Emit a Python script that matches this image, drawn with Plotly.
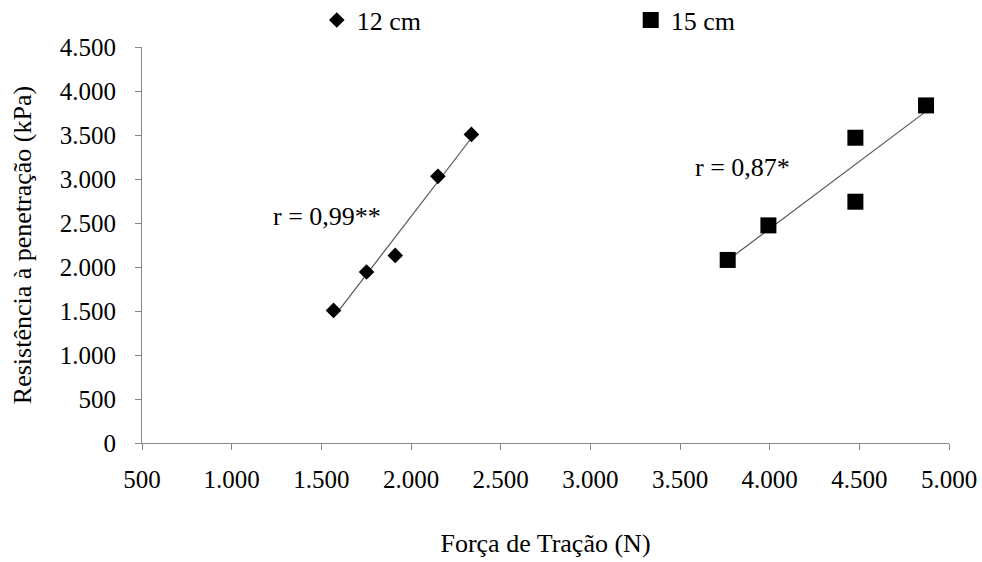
import numpy as np
import plotly.graph_objects as go

# Data
x_12 = [1568, 1752, 1912, 2150, 2337]
y_12 = [1507, 1943, 2132, 3030, 3507]
x_15 = [3766, 3993, 4478, 4478, 4872]
y_15 = [2080, 2473, 3469, 2742, 3836]

series_names = ["12 cm", "15 cm"]
r_labels = ["r = 0,99**", "r = 0,87*"]
r_label_pos = [(1533, 2572), (3846, 3128)]

x_ticks = [500, 1000, 1500, 2000, 2500, 3000, 3500, 4000, 4500, 5000]
y_ticks = [0, 500, 1000, 1500, 2000, 2500, 3000, 3500, 4000, 4500]


def fmt(v):
    return f"{v:,}".replace(",", ".")


FONT = "Liberation Serif"
AXIS_COLOR = "#868686"

fig = go.Figure()


def trend(xs, ys):
    m, b = np.polyfit(xs, ys, 1)
    xr = [min(xs), max(xs)]
    return xr, [m * v + b for v in xr]


for xs, ys in [(x_12, y_12), (x_15, y_15)]:
    tx, ty = trend(xs, ys)
    fig.add_trace(go.Scatter(x=tx, y=ty, mode="lines",
                             line=dict(color="#555555", width=1.2),
                             showlegend=False, hoverinfo="skip"))

fig.add_trace(go.Scatter(x=x_12, y=y_12, mode="markers", name=series_names[0],
                         marker=dict(symbol="diamond", size=12, color="black"),
                         legend="legend"))
fig.add_trace(go.Scatter(x=x_15, y=y_15, mode="markers", name=series_names[1],
                         marker=dict(symbol="square", size=16, color="black"),
                         legend="legend2"))

for txt, (ax, ay) in zip(r_labels, r_label_pos):
    fig.add_annotation(x=ax, y=ay, text=txt, showarrow=False,
                       font=dict(family=FONT, size=26, color="black"))

axis_common = dict(showgrid=False, zeroline=False, showline=True,
                   linecolor=AXIS_COLOR, linewidth=1, ticks="outside",
                   ticklen=6, tickcolor=AXIS_COLOR, tickwidth=1,
                   automargin=False,
                   tickfont=dict(family=FONT, size=25, color="black"))

fig.update_xaxes(range=[500, 5000], tickvals=x_ticks,
                 ticktext=[fmt(v) for v in x_ticks],
                 ticklabelstandoff=8,
                 title=dict(text="Força de Tração (N)",
                            font=dict(family=FONT, size=26, color="black"),
                            standoff=41),
                 **axis_common)
fig.update_yaxes(range=[0, 4500], tickvals=y_ticks,
                 ticktext=[fmt(v) for v in y_ticks],
                 ticklabelstandoff=14,
                 title=dict(text="Resistência à penetração (kPa)",
                            font=dict(family=FONT, size=26, color="black"),
                            standoff=20),
                 **axis_common)

legend_common = dict(orientation="h", yanchor="middle", y=1.068,
                     xanchor="left", bgcolor="rgba(0,0,0,0)",
                     font=dict(family=FONT, size=26, color="black"))
fig.update_layout(
    width=982, height=562,
    margin=dict(l=142, r=33, t=47, b=119, autoexpand=False),
    paper_bgcolor="white", plot_bgcolor="white",
    legend=dict(x=0.2166, **legend_common),
    legend2=dict(x=0.6056, **legend_common),
)

fig.write_html(
    "out.html",
    config={"displayModeBar": False},
    post_script="document.body.style.margin='0';document.body.style.padding='0';",
)
